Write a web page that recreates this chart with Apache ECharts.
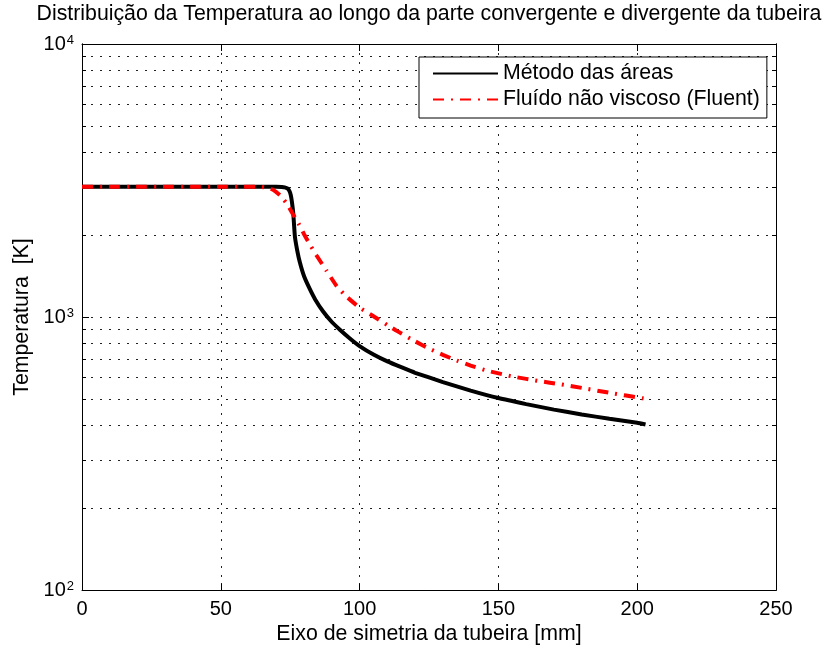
<!DOCTYPE html>
<html>
<head>
<meta charset="utf-8">
<script src="https://cdn.jsdelivr.net/npm/echarts@6/dist/echarts.min.js"></script>
<style>
  html, body { margin: 0; padding: 0; background: #fff; }
  #chart { width: 831px; height: 650px; }
</style>
</head>
<body>
<div id="chart"></div>
<script>
// posição ao longo do eixo [mm] e temperatura [K] – método das áreas
const xAreas = [0, 10, 20, 30, 40, 50, 60, 70, 72, 73, 74, 74.7, 75.2, 75.6, 76.1, 76.7, 77.5, 78.5, 80, 82, 84, 86.8, 90, 93, 96.5, 100, 105, 110, 115, 120, 130, 140, 150, 160, 170, 180, 190, 200, 203]
const tAreas = [3000, 3000, 3000, 3000, 3000, 3000, 3000, 3000, 2995, 2985, 2960, 2900, 2800, 2650, 2403, 1970, 1760, 1583, 1410, 1270, 1160, 1050, 959, 897, 835, 783, 729, 688, 655, 625, 578, 538, 505, 480, 458, 440, 424, 410, 404]

// fluido não viscoso (Fluent)
const xFluent = [0, 10, 20, 30, 40, 50, 60, 64, 66, 68, 70, 72, 74, 76, 78, 80, 82, 84.5, 88, 91.7, 95, 100, 105, 110, 113.4, 120, 125, 130, 135, 140, 146, 155, 165, 172, 181, 190, 202, 203]
const tFluent = [3000, 3000, 3000, 3000, 3000, 3000, 3000, 3000, 2985, 2950, 2870, 2750, 2580, 2380, 2200, 2010, 1850, 1680, 1482, 1300, 1195, 1083, 1007, 935, 890, 815, 767, 727, 693, 664, 636, 606, 582, 568, 548, 528, 504, 502]

// marcas dos eixos
const xTicks = [0, 50, 100, 150, 200, 250]
const yMajor = [100, 1000, 10000]
const yAll = [100, 200, 300, 400, 500, 600, 700, 800, 900, 1000, 2000, 3000, 4000, 5000, 6000, 7000, 8000, 9000, 10000]

const FONT = 'Liberation Sans, Arial, sans-serif'
const gridDot = { color: '#222', width: 1, type: [2, 7] }

const pairs = (xs, ys) => xs.map((x, i) => [x, ys[i]])

const yBase = {
  type: 'log',
  logBase: 10,
  min: 100,
  max: 10000,
  axisLine: { show: true, lineStyle: { color: '#000', width: 1 } }
}

const option = {
  animation: false,
  backgroundColor: '#fff',
  textStyle: { fontFamily: FONT },
  title: {
    text: 'Distribuição da Temperatura ao longo da parte convergente e divergente da tubeira',
    left: 429,
    textAlign: 'center',
    top: 4,
    padding: 0,
    textStyle: { fontFamily: FONT, fontSize: 21.3, fontWeight: 'normal', color: '#000' }
  },
  legend: {
    left: 419,
    top: 57,
    orient: 'vertical',
    backgroundColor: '#fff',
    borderColor: '#000',
    borderWidth: 1,
    borderRadius: 0,
    padding: [6, 7, 8, 13],
    itemWidth: 65,
    itemHeight: 14,
    itemGap: 5,
    itemStyle: { opacity: 0 },
    textStyle: { fontFamily: FONT, fontSize: 21.3, color: '#000', lineHeight: 21 },
    data: ['Método das áreas', 'Fluído não viscoso (Fluent)']
  },
  grid: { left: 82, right: 55, top: 44, bottom: 58 },
  xAxis: [
    {
      type: 'value',
      min: 0,
      max: 250,
      interval: 50,
      position: 'bottom',
      name: 'Eixo de simetria da tubeira [mm]',
      nameLocation: 'middle',
      nameGap: 31,
      nameTextStyle: { fontFamily: FONT, fontSize: 21.3, color: '#000' },
      axisLine: { lineStyle: { color: '#000', width: 1 } },
      axisTick: { inside: true, length: 7, lineStyle: { color: '#000' } },
      axisLabel: { fontFamily: FONT, fontSize: 20, color: '#000', margin: 9 },
      splitLine: { show: true, lineStyle: gridDot }
    },
    {
      type: 'value',
      min: 0,
      max: 250,
      interval: 50,
      position: 'top',
      axisLine: { lineStyle: { color: '#000', width: 1 } },
      axisTick: { inside: true, length: 7, lineStyle: { color: '#000' } },
      axisLabel: { show: false },
      splitLine: { show: false }
    }
  ],
  yAxis: [
    Object.assign({}, yBase, {
      position: 'left',
      name: 'Temperatura  [K]',
      nameLocation: 'middle',
      nameGap: 48,
      nameTextStyle: { fontFamily: FONT, fontSize: 21.3, color: '#000' },
      axisTick: { inside: true, length: 7, customValues: yMajor, lineStyle: { color: '#000' } },
      axisLabel: {
        customValues: yMajor,
        margin: 8,
        formatter: (v) => '{b|10}{e|' + Math.round(Math.log10(v)) + '}',
        rich: {
          b: { fontFamily: FONT, fontSize: 20, color: '#000', lineHeight: 20, padding: [4, 0, 4, 0] },
          e: { fontFamily: FONT, fontSize: 13, color: '#000', lineHeight: 13, verticalAlign: 'top', padding: [0, 0, 0, 1] }
        }
      },
      splitLine: { show: false }
    }),
    Object.assign({}, yBase, {
      position: 'left',
      axisTick: { inside: true, length: 4, customValues: yAll, lineStyle: { color: '#000' } },
      axisLabel: { show: false },
      splitLine: { show: true, lineStyle: gridDot }
    }),
    Object.assign({}, yBase, {
      position: 'right',
      axisTick: { inside: true, length: 7, customValues: yMajor, lineStyle: { color: '#000' } },
      axisLabel: { show: false },
      splitLine: { show: false }
    }),
    Object.assign({}, yBase, {
      position: 'right',
      axisTick: { inside: true, length: 4, customValues: yAll, lineStyle: { color: '#000' } },
      axisLabel: { show: false },
      splitLine: { show: false }
    })
  ],
  series: [
    {
      name: 'Método das áreas',
      type: 'line',
      xAxisIndex: 0,
      yAxisIndex: 0,
      symbol: 'none',
      smooth: 0.15,
      color: '#000',
      lineStyle: { color: '#000', width: 4 },
      data: pairs(xAreas, tAreas)
    },
    {
      name: 'Fluído não viscoso (Fluent)',
      type: 'line',
      xAxisIndex: 0,
      yAxisIndex: 0,
      symbol: 'none',
      smooth: 0.15,
      color: '#ff0000',
      lineStyle: { color: '#ff0000', width: 4, type: [11, 7, 2, 7], cap: 'butt' },
      data: pairs(xFluent, tFluent)
    }
  ]
}

const chart = echarts.init(document.getElementById('chart'))
chart.setOption(option)
</script>
</body>
</html>
